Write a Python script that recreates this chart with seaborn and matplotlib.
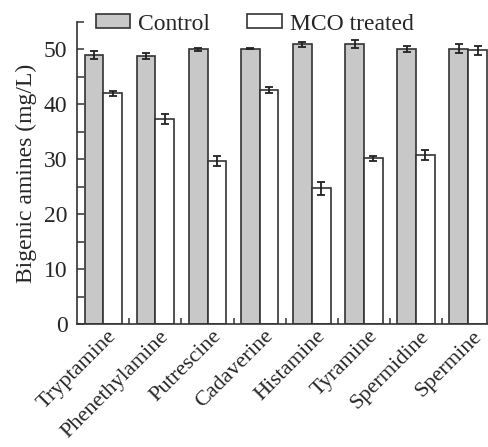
import numpy as np
import pandas as pd
import matplotlib.pyplot as plt
import matplotlib.transforms as mtransforms
import seaborn as sns
from matplotlib.ticker import MultipleLocator, FixedLocator

# Biogenic amines, control vs MCO treated (mg/L), mean and error
amines = ['Tryptamine', 'Phenethylamine', 'Putrescine', 'Cadaverine',
          'Histamine', 'Tyramine', 'Spermidine', 'Spermine']
control_mean = [49.0, 48.8, 50.0, 50.1, 50.9, 51.0, 50.1, 50.1]
control_err = [0.7, 0.5, 0.3, 0.1, 0.5, 0.7, 0.6, 0.8]
mco_mean = [42.0, 37.4, 29.7, 42.6, 24.7, 30.2, 30.8, 49.8]
mco_err = [0.4, 0.9, 0.9, 0.6, 1.25, 0.45, 0.95, 0.75]
groups = ['Control', 'MCO treated']

df = pd.DataFrame({
    'Amine': amines * 2,
    'Group': [groups[0]] * len(amines) + [groups[1]] * len(amines),
    'Value': control_mean + mco_mean,
})

sns.set_style('ticks')
plt.rcParams['font.family'] = ['Liberation Serif', 'DejaVu Serif']
plt.rcParams['axes.edgecolor'] = '#333333'
plt.rcParams['axes.linewidth'] = 1.2

fig = plt.figure(figsize=(4.89, 4.47), dpi=100)
ax = fig.add_axes([0.158, 0.275, 0.842, 0.676])

sns.barplot(data=df, x='Amine', y='Value', hue='Group',
            palette=['#c8c8c8', 'white'], width=0.72, errorbar=None,
            saturation=1, edgecolor='#333333', linewidth=1.2, ax=ax)

# error bars on top of each bar
for cont, errs in zip(ax.containers, [control_err, mco_err]):
    xs = [b.get_x() + b.get_width() / 2 for b in cont]
    ys = [b.get_height() for b in cont]
    ax.errorbar(xs, ys, yerr=errs, fmt='none', ecolor='#222222',
                elinewidth=1.3, capsize=3.2, capthick=1.3)

ax.set_xlim(-0.5, 7.4)
ax.set_ylim(0, 55)
ax.yaxis.set_major_locator(MultipleLocator(10))
ax.yaxis.set_minor_locator(MultipleLocator(5))
ax.tick_params(axis='y', which='both', direction='in', length=5,
               width=1.1, color='#333333', labelsize=17, pad=7)
ax.xaxis.set_minor_locator(FixedLocator(np.arange(0.5, 7, 1)))
ax.tick_params(axis='x', which='major', length=0, labelsize=16, pad=2)
ax.tick_params(axis='x', which='minor', direction='in', length=4,
               width=1.1, color='#333333')
shift = mtransforms.ScaledTranslation(4 / 100, 0, fig.dpi_scale_trans)
for lab in ax.get_xticklabels():
    lab.set_rotation(45)
    lab.set_ha('right')
    lab.set_va('top')
    lab.set_rotation_mode('anchor')
    lab.set_transform(lab.get_transform() + shift)

ax.set_xlabel('')
ax.set_ylabel('Bigenic amines (mg/L)', fontsize=17, labelpad=5)
sns.despine(ax=ax)

handles, labels = ax.get_legend_handles_labels()
ax.legend(handles, labels, ncol=2, frameon=False, loc='center',
          bbox_to_anchor=(0.431, 0.993), fontsize=17, handlelength=1.48,
          handleheight=0.55, columnspacing=1.55, handletextpad=0.34,
          borderaxespad=0, borderpad=0)

fig.savefig('out.png', dpi=100)
